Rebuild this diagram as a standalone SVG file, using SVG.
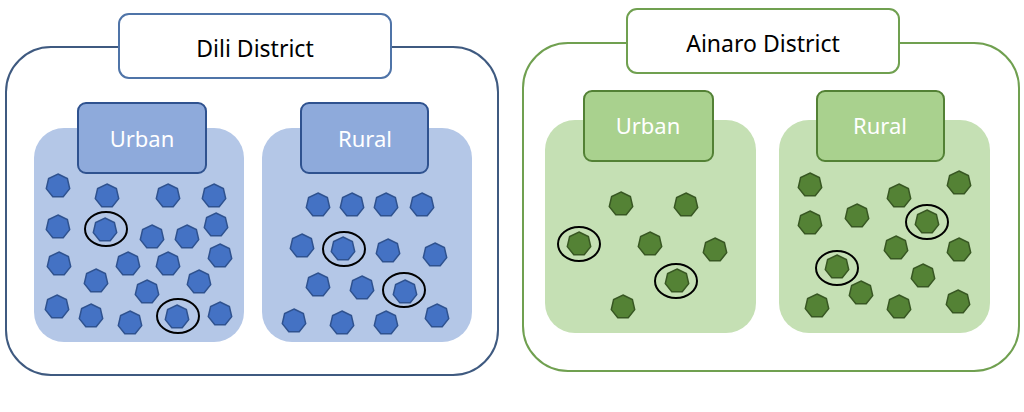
<svg xmlns="http://www.w3.org/2000/svg" xmlns:xlink="http://www.w3.org/1999/xlink" width="1024" height="412" viewBox="0 0 1024 412">
<defs>
<style>
.outerB{fill:#fff;stroke:#3f5a80;stroke-width:2}
.outerG{fill:#fff;stroke:#70a050;stroke-width:2}
.titleB{fill:#fff;stroke:#4f74a8;stroke-width:2}
.titleG{fill:#fff;stroke:#70a050;stroke-width:2}
.title{font-family:"Noto Sans","Liberation Sans",sans-serif;font-size:23px;fill:#000;text-anchor:middle}
.panelB{fill:#b4c7e7}
.panelG{fill:#c5e0b4}
.labB{fill:#8eaadb;stroke:#2f528f;stroke-width:2}
.labG{fill:#a9d18e;stroke:#538135;stroke-width:2}
.lab{font-family:"Noto Sans","Liberation Sans",sans-serif;font-size:22px;fill:#fff;text-anchor:middle}
.hb{fill:#4472c4;stroke:#2f528f;stroke-width:1.5}
.hg{fill:#548235;stroke:#385723;stroke-width:1.5}
.ring{fill:none;stroke:#000;stroke-width:2}
</style>
<polygon id="h" points="0,-12 9.38,-7.48 11.7,2.67 5.21,10.81 -5.21,10.81 -11.7,2.67 -9.38,-7.48"/>
</defs>
<rect width="1024" height="412" fill="#fff"/>

<g id="dili">
<rect class="outerB" x="6" y="47" width="492" height="328" rx="45"/>
<g id="dili-title">
<rect class="titleB" x="119" y="14" width="272" height="64" rx="10"/>
<text class="title" x="255" y="57">Dili District</text>
</g>
<g id="dili-urban">
<rect class="panelB" x="34" y="128" width="210" height="214" rx="30"/>
<rect class="labB" x="78" y="103" width="128" height="70" rx="8"/>
<text class="lab" x="142" y="147">Urban</text>
<g class="hb">
<use xlink:href="#h" x="58" y="186"/>
<use xlink:href="#h" x="107" y="196"/>
<use xlink:href="#h" x="168" y="196"/>
<use xlink:href="#h" x="214" y="196"/>
<use xlink:href="#h" x="58" y="227"/>
<use xlink:href="#h" x="105" y="230"/>
<use xlink:href="#h" x="152" y="237"/>
<use xlink:href="#h" x="187" y="237"/>
<use xlink:href="#h" x="216" y="225"/>
<use xlink:href="#h" x="59" y="264"/>
<use xlink:href="#h" x="128" y="264"/>
<use xlink:href="#h" x="168" y="264"/>
<use xlink:href="#h" x="220" y="256"/>
<use xlink:href="#h" x="96" y="281"/>
<use xlink:href="#h" x="147" y="292"/>
<use xlink:href="#h" x="199" y="282"/>
<use xlink:href="#h" x="57" y="307"/>
<use xlink:href="#h" x="91" y="316"/>
<use xlink:href="#h" x="130" y="323"/>
<use xlink:href="#h" x="177" y="317"/>
<use xlink:href="#h" x="220" y="314"/>
</g>
<ellipse class="ring" cx="106" cy="229" rx="21" ry="17"/>
<ellipse class="ring" cx="178" cy="316" rx="21" ry="17"/>
</g>
<g id="dili-rural">
<rect class="panelB" x="262" y="128" width="210" height="214" rx="30"/>
<rect class="labB" x="301" y="103" width="127" height="70" rx="8"/>
<text class="lab" x="365" y="147">Rural</text>
<g class="hb">
<use xlink:href="#h" x="318" y="205"/>
<use xlink:href="#h" x="352" y="205"/>
<use xlink:href="#h" x="386" y="205"/>
<use xlink:href="#h" x="422" y="205"/>
<use xlink:href="#h" x="302" y="246"/>
<use xlink:href="#h" x="343" y="249"/>
<use xlink:href="#h" x="388" y="251"/>
<use xlink:href="#h" x="435" y="255"/>
<use xlink:href="#h" x="318" y="285"/>
<use xlink:href="#h" x="362" y="288"/>
<use xlink:href="#h" x="405" y="292"/>
<use xlink:href="#h" x="294" y="321"/>
<use xlink:href="#h" x="342" y="323"/>
<use xlink:href="#h" x="386" y="323"/>
<use xlink:href="#h" x="437" y="316"/>
</g>
<ellipse class="ring" cx="344" cy="249" rx="21" ry="17"/>
<ellipse class="ring" cx="404" cy="290" rx="21" ry="17"/>
</g>
</g>

<g id="ainaro">
<rect class="outerG" x="523" y="43" width="496" height="328" rx="45"/>
<g id="ainaro-title">
<rect class="titleG" x="627" y="9" width="272" height="64" rx="10"/>
<text class="title" x="763" y="52">Ainaro District</text>
</g>
<g id="ainaro-urban">
<rect class="panelG" x="545" y="120" width="211" height="213" rx="30"/>
<rect class="labG" x="584" y="91" width="129" height="70" rx="8"/>
<text class="lab" x="648" y="134">Urban</text>
<g class="hg">
<use xlink:href="#h" x="621" y="204"/>
<use xlink:href="#h" x="686" y="205"/>
<use xlink:href="#h" x="579" y="244"/>
<use xlink:href="#h" x="650" y="244"/>
<use xlink:href="#h" x="715" y="250"/>
<use xlink:href="#h" x="677" y="281"/>
<use xlink:href="#h" x="623" y="307"/>
</g>
<ellipse class="ring" cx="579" cy="244" rx="21" ry="17"/>
<ellipse class="ring" cx="676" cy="281" rx="21" ry="17"/>
</g>
<g id="ainaro-rural">
<rect class="panelG" x="779" y="120" width="211" height="213" rx="30"/>
<rect class="labG" x="817" y="91" width="127" height="70" rx="8"/>
<text class="lab" x="880" y="134">Rural</text>
<g class="hg">
<use xlink:href="#h" x="810" y="185"/>
<use xlink:href="#h" x="899" y="196"/>
<use xlink:href="#h" x="959" y="183"/>
<use xlink:href="#h" x="810" y="223"/>
<use xlink:href="#h" x="857" y="216"/>
<use xlink:href="#h" x="927" y="222"/>
<use xlink:href="#h" x="896" y="248"/>
<use xlink:href="#h" x="959" y="250"/>
<use xlink:href="#h" x="837" y="267"/>
<use xlink:href="#h" x="923" y="276"/>
<use xlink:href="#h" x="861" y="293"/>
<use xlink:href="#h" x="817" y="306"/>
<use xlink:href="#h" x="899" y="307"/>
<use xlink:href="#h" x="958" y="302"/>
</g>
<ellipse class="ring" cx="927" cy="222" rx="21" ry="17"/>
<ellipse class="ring" cx="837" cy="268" rx="21" ry="17"/>
</g>
</g>
</svg>
